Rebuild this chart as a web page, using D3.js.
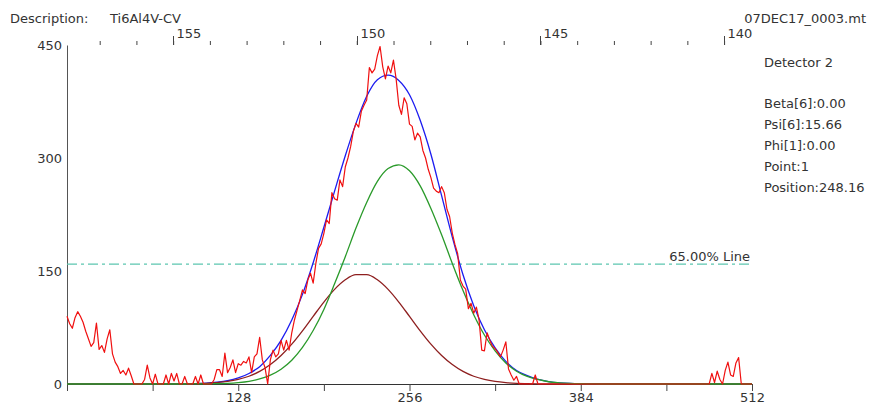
<!DOCTYPE html>
<html>
<head>
<meta charset="utf-8">
<script src="https://cdn.jsdelivr.net/npm/d3@7"></script>
<style>
  html, body { margin: 0; padding: 0; background: #fff; }
  svg { display: block; font-family: "DejaVu Sans", Verdana, sans-serif; }
</style>
</head>
<body>
<svg id="chart" width="870" height="406"></svg>
<script>
// ---- Data -------------------------------------------------------------
// Measured counts, one value every 2 detector channels (channel 0 .. 512)
const channelStep = 2;
const measured = [
   90,  80,  74,  88,  96,  90,  82,  70,  60,  50,  55,  81,  46,  51,  42,  60,
   72,  40,  29,  23,  14,  18,  12,  21,  11,   0,   0,   0,   0,   6,  25,   8,
    0,  13,   0,   0,   0,  12,   0,  14,   4,  14,   0,   0,  10,   0,   0,   0,
   10,   0,  12,   0,   0,   0,   0,   6,  19,  19,  10,  41,  15,  22,  32,  15,
   27,  25,  30,  28,  36,  15,  36,  40,  62,  32,  22,   0,  32,  45,  36,  40,
   58,  45,  58,  45,  68,  85,  98, 111, 125, 120, 138, 147, 134, 160, 180, 186,
  200, 218, 213, 254, 246, 244, 271, 262, 288, 300, 315, 335, 346, 341, 362, 370,
  377, 420, 413, 418, 436, 448, 421, 405, 422, 413, 430, 405, 370, 358, 380, 372,
  345, 342, 324, 333, 328, 310, 300, 285, 274, 260, 256, 254, 262, 254, 232, 222,
  200, 185, 173, 138, 130, 126, 100, 107,  94, 102,  85,  45,  44,  68,  58,  50,
   47,  42,  36,  45,  56,  20,  12,   5,  10,   0,   0,   0,   0,   0,   0,  12,
    0,   0,   0,   0,   0,   0,   0,   0,   0,   0,   0,   0,   0,   0,   0,   0,
    0,   0,   0,   0,   0,   0,   0,   0,   0,   0,   0,   0,   0,   0,   0,   0,
    0,   0,   0,   0,   0,   0,   0,   0,   0,   0,   0,   0,   0,   0,   0,   0,
    0,   0,   0,   0,   0,   0,   0,   0,   0,   0,   0,   0,   0,   0,   0,   0,
    0,  14,   2,  17,   6,   0,  18,  29,  12,  10,  28,  35,   0,   0,   0,   0,
    0
];

// Fitted profiles, sampled at these channels
const fitChannels = [0, 88, 96, 104, 112, 120, 128, 136, 144, 152, 160, 168, 176, 184,
  192, 200, 208, 216, 224, 232, 240, 248, 256, 264, 272, 280, 288, 296, 304, 312,
  320, 328, 336, 344, 352, 360, 368, 376, 384, 392, 400, 512];
const fitTotal = [0, 0.2, 0.6, 1.1, 2.3, 4.3, 8, 14, 23, 38, 58, 85, 119, 161,
  208, 256, 303, 346, 382, 404, 410, 403, 384, 350, 305, 250, 195, 145, 104, 72,
  48, 30, 18, 11, 6, 3.2, 1.6, 0.8, 0.4, 0.2, 0, 0];
const fitKa1 = [0, 0, 0.1, 0.2, 0.5, 0.9, 1.9, 3.6, 6.7, 11.8, 19.7, 31.6, 48.5, 71,
  99, 133, 169, 207, 241, 269, 286, 291, 283, 263, 233, 198, 160, 124, 92, 65,
  44, 28, 17, 10, 6, 3, 1.6, 0.8, 0.4, 0.2, 0, 0];
const fitKa2 = [0, 0.2, 0.5, 0.9, 1.8, 3.4, 6.1, 10.3, 16.7, 25.8, 37.8, 52.9, 70.6, 89.8,
  108.8, 125.6, 138.3, 145.1, 145.1, 138.3, 125.6, 108.8, 89.8, 70.6, 52.9, 37.8, 25.8, 16.7, 10.3, 6.1,
  3.4, 1.8, 0.9, 0.5, 0.2, 0.1, 0, 0, 0, 0, 0, 0];

// Axis ticks
const yTicks = [0, 150, 300, 450];
const xTicks = [0, 64, 128, 192, 256, 320, 384, 448, 512];
const xLabelled = [128, 256, 384, 512];
const angleMajor = [155, 150, 145, 140];
const angleMinor = d3.range(140, 158);
const angleEdges = [157.89, 139.24];   // 2-theta at channel 0 and channel 512

// Level line and annotations
const levelValue = 159;
const levelText = "65.00% Line";
const descriptionLabel = "Description:";
const descriptionValue = "Ti6Al4V-CV";
const fileName = "07DEC17_0003.mt";
const infoTitle = "Detector 2";
const infoLines = ["Beta[6]:0.00", "Psi[6]:15.66", "Phi[1]:0.00", "Point:1", "Position:248.16"];

// ---- Layout -----------------------------------------------------------
const plot = { left: 67, right: 752, top: 45, bottom: 384 };
const textColor = "#333";

const svg = d3.select("#chart");

const x = d3.scaleLinear().domain([0, 512]).range([plot.left, plot.right]);
const y = d3.scaleLinear().domain([0, 450]).range([plot.bottom, plot.top]);
const xAngle = d3.scaleLinear().domain(angleEdges).range([plot.left, plot.right]);

// ---- Header -----------------------------------------------------------
const header = svg.append("g").attr("font-size", 13).attr("fill", textColor);
header.append("text").attr("x", 10).attr("y", 23).text(descriptionLabel);
header.append("text").attr("x", 110).attr("y", 23).text(descriptionValue);
header.append("text").attr("x", 866).attr("y", 23).attr("text-anchor", "end").text(fileName);

// ---- Axes -------------------------------------------------------------
const yAxis = svg.append("g")
  .attr("transform", `translate(${plot.left},0)`)
  .call(d3.axisLeft(y).tickValues(yTicks).tickSize(0).tickPadding(5));
yAxis.select(".domain").attr("stroke", "#555");
yAxis.selectAll("text").attr("font-size", 13).attr("fill", textColor)
  .attr("font-family", "DejaVu Sans, Verdana, sans-serif");

const xAxis = svg.append("g")
  .attr("transform", `translate(0,${plot.bottom})`)
  .call(d3.axisBottom(x).tickValues(xTicks).tickSizeInner(7).tickSizeOuter(0)
    .tickPadding(2).tickFormat(d => xLabelled.includes(d) ? d : ""));
xAxis.select(".domain").attr("stroke", "#333");
xAxis.selectAll(".tick line").attr("stroke", "#444");
xAxis.selectAll("text").attr("font-size", 13).attr("fill", textColor)
  .attr("font-family", "DejaVu Sans, Verdana, sans-serif");

// Top 2-theta axis: small ticks each degree, taller labelled ticks every 5
const topAxis = svg.append("g")
  .attr("transform", `translate(0,${plot.top})`)
  .call(d3.axisTop(xAngle).tickValues(angleMinor).tickSize(4).tickFormat(""));
topAxis.select(".domain").remove();
topAxis.selectAll(".tick line").attr("stroke", "#444");
const majors = svg.append("g");
angleMajor.forEach(a => {
  const px = Math.round(xAngle(a)) + 0.5;
  majors.append("line").attr("x1", px).attr("x2", px)
    .attr("y1", plot.top - 9).attr("y2", plot.top).attr("stroke", "#444");
  majors.append("text").attr("x", px + 3).attr("y", plot.top - 7)
    .attr("font-size", 13).attr("fill", textColor).text(a);
});

// ---- Level line ---------------------------------------------------------
svg.append("line")
  .attr("x1", plot.left).attr("x2", plot.right)
  .attr("y1", y(levelValue)).attr("y2", y(levelValue))
  .attr("stroke", "#5cc6b0").attr("stroke-width", 1.2)
  .attr("stroke-dasharray", "10,4,3,4");
svg.append("text")
  .attr("x", 750).attr("y", y(levelValue) - 3)
  .attr("text-anchor", "end").attr("font-size", 13).attr("fill", textColor)
  .text(levelText);

// ---- Curves -----------------------------------------------------------
const fitLine = (vals) => d3.line()
  .x((d, i) => x(fitChannels[i]))
  .y(d => y(d))
  .curve(d3.curveMonotoneX)(vals);

svg.append("path").attr("d", fitLine(fitTotal))
  .attr("fill", "none").attr("stroke", "#1c1cf0").attr("stroke-width", 1.3);
svg.append("path").attr("d", fitLine(fitKa2))
  .attr("fill", "none").attr("stroke", "#8e1f1f").attr("stroke-width", 1.3);
svg.append("path").attr("d", fitLine(fitKa1))
  .attr("fill", "none").attr("stroke", "#2a9a2a").attr("stroke-width", 1.3);

const measuredLine = d3.line()
  .x((d, i) => x(i * channelStep))
  .y(d => y(d));
svg.append("path").attr("d", measuredLine(measured))
  .attr("fill", "none").attr("stroke", "#f01010").attr("stroke-width", 1.2)
  .attr("stroke-linejoin", "round");

// ---- Info panel -----------------------------------------------------------
const info = svg.append("g").attr("font-size", 13).attr("fill", textColor);
info.append("text").attr("x", 764).attr("y", 67).text(infoTitle);
infoLines.forEach((t, i) => {
  info.append("text").attr("x", 764).attr("y", 108 + i * 21).text(t);
});
</script>
</body>
</html>
